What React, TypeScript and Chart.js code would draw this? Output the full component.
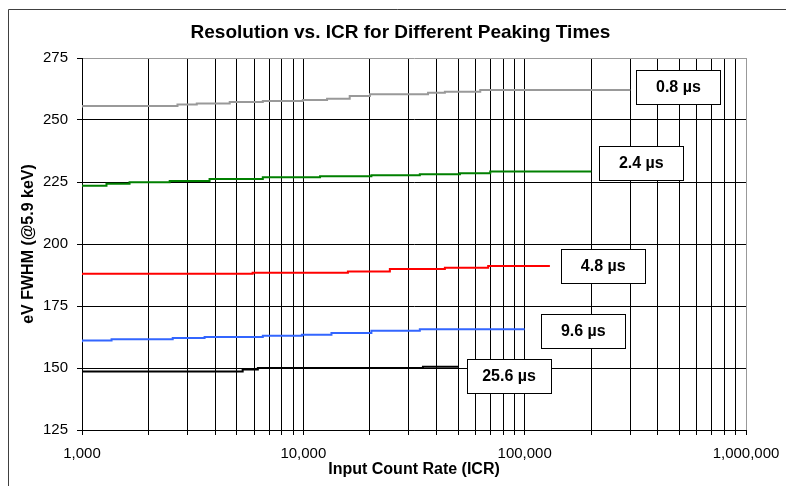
import React, { useEffect, useRef } from "react";
import { Chart, registerables } from "chart.js";

Chart.register(...registerables);

const TITLE = "Resolution vs. ICR for Different Peaking Times";
const X_TITLE = "Input Count Rate (ICR)";
const Y_TITLE = "eV FWHM (@5.9 keV)";

const X_TICKS = [
  1000, 2000, 3000, 4000, 5000, 6000, 7000, 8000, 9000,
  10000, 20000, 30000, 40000, 50000, 60000, 70000, 80000, 90000,
  100000, 200000, 300000, 400000, 500000, 600000, 700000, 800000, 900000,
  1000000,
];
const X_LABELED = [1000, 10000, 100000, 1000000];
const Y_MIN = 125;
const Y_MAX = 275;
const Y_STEP = 25;

const SERIES_NAMES = ["0.8 µs", "2.4 µs", "4.8 µs", "9.6 µs", "25.6 µs"];

// 0.8 µs
const X_08 = [1000, 2700, 3300, 4650, 6560, 9950, 12800, 16200, 20000, 36600, 43600, 63000, 178000, 300000];
const Y_08 = [255.0, 255.6, 256.3, 256.7, 257.3, 257.7, 258.1, 258.6, 259.7, 260.4, 261.0, 261.4, 262.1, 262.1];
// 2.4 µs
const X_24 = [1000, 1290, 1640, 2490, 3770, 6560, 11900, 20300, 33600, 51000, 69900, 90000, 200000];
const Y_24 = [223.1, 223.5, 224.3, 224.9, 225.4, 226.2, 226.9, 227.3, 227.7, 228.1, 228.5, 229.2, 229.2];
// 4.8 µs
const X_48 = [1000, 5900, 15900, 24600, 43600, 68400, 105000, 130000];
const Y_48 = [187.5, 188.0, 188.4, 188.9, 189.9, 190.4, 191.1, 191.1];
// 9.6 µs
const X_96 = [1000, 1360, 2570, 3580, 6560, 9850, 13400, 20300, 33600, 88000, 100000];
const Y_96 = [160.4, 161.1, 161.6, 162.1, 162.5, 163.0, 163.4, 164.1, 165.0, 165.6, 165.6];
// 25.6 µs
const X_256 = [1000, 5320, 6230, 34700, 42800, 50000];
const Y_256 = [148.1, 148.6, 149.4, 150.0, 150.5, 150.5];

const SERIES_X = [X_08, X_24, X_48, X_96, X_256];
const SERIES_Y = [Y_08, Y_24, Y_48, Y_96, Y_256];
const SERIES_COLORS = ["#999999", "#008000", "#ff0000", "#3366ff", "#000000"];

// label box anchors (data coordinates: count rate, eV)
const LABEL_AT_X = [495000, 336600, 226500, 184000, 85000];
const LABEL_AT_Y = [263.3, 232.7, 191.1, 164.9, 146.8];

const FONT = "'Liberation Sans', Arial, Helvetica, sans-serif";

const decorPlugin = {
  id: "decor",
  beforeDraw(chart: any) {
    const { ctx, width, height } = chart;
    ctx.save();
    ctx.fillStyle = "#ffffff";
    ctx.fillRect(0, 0, width, height);
    ctx.strokeStyle = "#404040";
    ctx.lineWidth = 1;
    ctx.beginPath();
    ctx.moveTo(0.5, height);
    ctx.lineTo(0.5, 1.5);
    ctx.lineTo(width, 1.5);
    ctx.stroke();
    ctx.restore();
  },
  afterDraw(chart: any) {
    const { ctx } = chart;
    const xs = chart.scales.x;
    const ys = chart.scales.y;
    ctx.save();
    ctx.fillStyle = "#000";
    ctx.font = `bold 19px ${FONT}`;
    ctx.textAlign = "center";
    ctx.textBaseline = "middle";
    ctx.fillText(TITLE, 392.5, 25);

    ctx.font = `bold 16px ${FONT}`;
    SERIES_NAMES.forEach((name, i) => {
      const cx = xs.getPixelForValue(LABEL_AT_X[i]);
      const cy = ys.getPixelForValue(LABEL_AT_Y[i]);
      const w = 84;
      const h = 34;
      const left = Math.round(cx - w / 2) + 0.5;
      const top = Math.round(cy - h / 2) + 0.5;
      ctx.fillStyle = "#fff";
      ctx.fillRect(left, top, w, h);
      ctx.strokeStyle = "#000";
      ctx.lineWidth = 1;
      ctx.strokeRect(left, top, w, h);
      ctx.fillStyle = "#000";
      ctx.fillText(name, cx, cy + 1);
    });
    ctx.restore();
  },
};

export default function App() {
  const ref = useRef<HTMLCanvasElement | null>(null);

  useEffect(() => {
    if (!ref.current) return;
    Chart.defaults.font.family = FONT;
    const datasets = SERIES_NAMES.map((name, i) => ({
      label: name,
      data: SERIES_X[i].map((x, j) => ({ x, y: SERIES_Y[i][j] })),
      borderColor: SERIES_COLORS[i],
      backgroundColor: SERIES_COLORS[i],
      borderWidth: 2,
      pointRadius: 0,
      stepped: "after" as const,
      fill: false,
    }));
    const chart = new Chart(ref.current, {
      type: "line",
      data: { datasets },
      options: {
        animation: false,
        responsive: false,
        layout: { padding: { top: 50, right: 40, left: 0, bottom: 0 } },
        plugins: {
          legend: { display: false },
          tooltip: { enabled: false },
          title: { display: false },
        },
        scales: {
          x: {
            type: "logarithmic",
            min: 1000,
            max: 1000000,
            afterBuildTicks: (scale: any) => {
              scale.ticks = X_TICKS.map((v) => ({ value: v }));
            },
            afterFit: (scale: any) => {
              scale.height = 56;
              scale.paddingLeft = 0;
              scale.paddingRight = 0;
            },
            ticks: {
              autoSkip: false,
              maxRotation: 0,
              padding: 10,
              color: "#000",
              font: { size: 15 },
              callback: (v: any) =>
                X_LABELED.includes(Number(v)) ? Number(v).toLocaleString("en-US") : "",
            },
            grid: {
              color: (c: any) => (c.tick && c.tick.value === 1000000 ? "#999999" : "#000000"),
              tickColor: "#000000",
              tickLength: 5,
              lineWidth: 1,
            },
            border: { color: "#000", width: 1 },
            title: {
              display: true,
              text: X_TITLE,
              color: "#000",
              font: { size: 16, weight: "bold" },
              padding: { top: 0, bottom: 7 },
            },
          },
          y: {
            type: "linear",
            min: Y_MIN,
            max: Y_MAX,
            afterFit: (scale: any) => {
              scale.width = 74;
              scale.paddingTop = 0;
              scale.paddingBottom = 0;
            },
            ticks: {
              stepSize: Y_STEP,
              padding: 9,
              color: "#000",
              font: { size: 15 },
            },
            grid: {
              color: (c: any) => (c.tick && c.tick.value === Y_MAX ? "#999999" : "#000000"),
              tickColor: "#000000",
              tickLength: 5,
              lineWidth: 1,
            },
            border: { color: "#000", width: 1 },
            title: {
              display: true,
              text: Y_TITLE,
              color: "#000",
              font: { size: 16, weight: "bold" },
              padding: { top: 11.4, bottom: 0 },
            },
          },
        },
      },
      plugins: [decorPlugin],
    });
    return () => chart.destroy();
  }, []);

  return (
    <div style={{ position: "fixed", left: 8, top: 8, width: 778, height: 478 }}>
      <canvas ref={ref} width={778} height={478} style={{ display: "block" }} />
    </div>
  );
}
